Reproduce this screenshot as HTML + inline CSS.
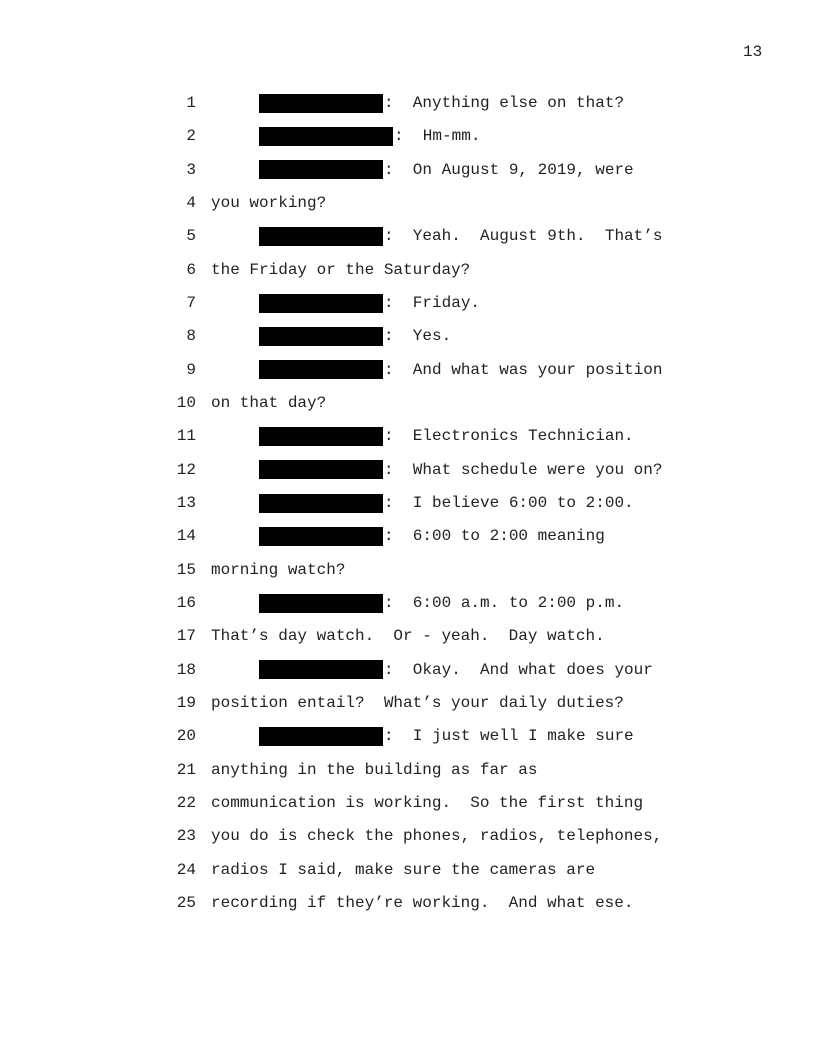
<!DOCTYPE html>
<html><head><style>
body{margin:0;width:816px;height:1056px;background:#fff;position:relative;font-family:"Liberation Mono",monospace;font-size:16px;color:#222;}
.l{position:absolute;height:18px;line-height:18px;white-space:pre;}
.n{position:absolute;width:30px;text-align:right;left:166px;height:18px;line-height:18px;}
.b{position:absolute;background:#000;left:259px;height:19px;}
</style></head><body>
<div class="l" style="left:743px;top:43px">13</div>
<div id="c"></div>
<script>
var L=[
[1,124,"  Anything else on that?"],
[2,134,"  Hm-mm."],
[3,124,"  On August 9, 2019, were"],
[4,0,"you working?"],
[5,124,"  Yeah.  August 9th.  That’s"],
[6,0,"the Friday or the Saturday?"],
[7,124,"  Friday."],
[8,124,"  Yes."],
[9,124,"  And what was your position"],
[10,0,"on that day?"],
[11,124,"  Electronics Technician."],
[12,124,"  What schedule were you on?"],
[13,124,"  I believe 6:00 to 2:00."],
[14,124,"  6:00 to 2:00 meaning"],
[15,0,"morning watch?"],
[16,124,"  6:00 a.m. to 2:00 p.m."],
[17,0,"That’s day watch.  Or - yeah.  Day watch."],
[18,124,"  Okay.  And what does your"],
[19,0,"position entail?  What’s your daily duties?"],
[20,124,"  I just well I make sure"],
[21,0,"anything in the building as far as"],
[22,0,"communication is working.  So the first thing"],
[23,0,"you do is check the phones, radios, telephones,"],
[24,0,"radios I said, make sure the cameras are"],
[25,0,"recording if they’re working.  And what ese."]];
var h="";
L.forEach(function(r){var c=103+(r[0]-1)*33.33;var t=(c-9).toFixed(1);
h+='<div class="n" style="top:'+t+'px">'+r[0]+'</div>';
if(r[1]){h+='<div class="b" style="top:'+(c-9.5).toFixed(1)+'px;width:'+r[1]+'px"></div>';
h+='<div class="l" style="left:'+(259+r[1]+1)+'px;top:'+t+'px">:'+r[2]+'</div>';}
else h+='<div class="l" style="left:211px;top:'+t+'px">'+r[2]+'</div>';});
document.getElementById("c").innerHTML=h;
</script>
</body></html>
